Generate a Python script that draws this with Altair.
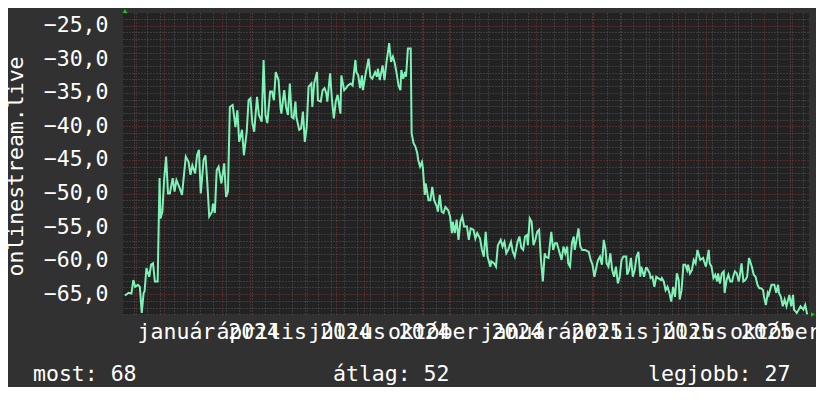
import altair as alt
import pandas as pd

# ---------------- data ----------------
start_date = "2023-10-18"   # left edge of the time axis
end_date = "2025-10-19"     # right edge of the time axis

# day offset from start_date of each sample
days = [
    2, 6, 9, 11, 13, 16, 18, 20, 22, 23,
    25, 28, 30, 32, 34, 37, 39, 40, 42, 44,
    46, 48, 50, 53, 55, 57, 60, 63, 64, 67,
    70, 72, 74, 77, 79, 81, 83, 86, 88, 90,
    92, 95, 96, 98, 100, 102, 105, 108, 110, 112,
    114, 117, 120, 122, 124, 127, 129, 132, 134, 136,
    138, 140, 143, 145, 148, 150, 152, 154, 157, 159,
    161, 163, 166, 168, 169, 172, 174, 176,
    178, 180, 182, 184, 185, 188, 190, 192, 194, 196,
    198, 201, 202, 204, 207, 208, 211, 213, 215, 217,
    218, 221, 223, 225, 227, 229, 232, 233, 236, 238,
    240, 243, 245, 248, 249, 251, 253, 255, 256, 259,
    262, 264, 266, 269, 271, 272, 274, 277, 279, 281,
    284, 286, 288, 290, 292, 294, 296, 297, 299, 301,
    302, 304, 307, 308, 310, 312, 314,
    315, 317, 319, 320, 322, 323, 326, 328, 330, 332,
    335, 336, 338, 340, 342, 344, 347, 349, 351, 352,
    354, 356, 358, 360, 362, 364, 367, 369, 371, 374,
    376, 378, 381, 383, 385, 387, 389, 392, 393, 396,
    398, 400, 403, 405, 407, 409, 411, 414, 416, 418,
    421, 423, 425, 427, 429, 431, 432, 434, 436, 438,
    440, 442, 444, 446, 448, 450, 451, 454, 457, 459,
    461, 463, 466, 468, 470, 472, 474, 475, 477, 479,
    481, 482, 484, 486, 488, 490, 493, 497, 499, 501,
    503, 506, 507, 509, 511, 513, 515, 516, 518, 520,
    522, 524, 526, 528, 530, 532, 534, 537, 538, 540,
    542, 544, 546, 548, 550, 552, 553, 556, 558, 559,
    562, 563, 565, 567, 569, 571, 574, 575, 577, 579,
    581, 583, 585, 587, 589, 591, 593, 594, 596, 598,
    600, 602, 603, 605, 607, 609, 611, 613, 615, 616,
    619, 620, 622, 625, 626, 628, 630, 632, 634, 635,
    637, 639, 641, 642, 644, 646, 648, 650, 651, 653,
    655, 657, 658, 660, 662, 664, 666, 668, 671, 673,
    675, 677, 679, 681, 683, 684, 686, 688, 689, 692,
    695, 697, 699, 700, 702, 704, 706, 708, 711, 713,
    715, 716, 719, 721, 723, 726, 728, 730,
]

values = [
    -65.2, -64.8, -64.9, -62.9, -63.9, -63.6, -63.9, -67.8, -64.8, -64.6,
    -61.1, -62.4, -60.6, -60.4, -63.1, -63.1, -47.7, -53.7, -52.7, -47.7,
    -44.5, -50.0, -50.0, -47.7, -49.7, -48.0, -49.0, -50.2, -48.7, -44.5,
    -45.3, -47.2, -45.8, -47.0, -44.3, -43.5, -50.0, -45.0, -44.3, -48.5,
    -53.4, -52.7, -51.5, -52.9, -46.5, -46.0, -48.5, -45.5, -50.5, -49.7,
    -37.1, -36.8, -40.1, -37.6, -42.3, -40.5, -44.3, -40.8, -36.1, -35.8,
    -39.5, -40.8, -35.6, -38.3, -39.3, -30.1, -38.3, -39.5, -34.8, -34.8,
    -36.1, -31.9, -33.1, -37.1, -38.1, -34.6, -37.1, -38.3,
    -33.6, -38.6, -38.8, -36.3, -38.6, -40.5, -40.3, -37.8, -42.3, -40.1,
    -34.1, -33.6, -37.1, -33.6, -31.9, -36.1, -36.3, -34.6, -34.3, -35.1,
    -36.3, -32.1, -36.1, -38.8, -36.3, -35.3, -38.1, -32.4, -34.6, -34.3,
    -33.9, -33.6, -33.9, -30.1, -31.9, -32.4, -34.3, -32.4, -34.6, -32.1,
    -29.9, -32.6, -32.9, -31.9, -32.6, -31.4, -33.1, -30.9, -33.1, -30.6,
    -27.6, -30.4, -29.6, -30.6, -32.1, -33.9, -34.6, -31.6, -32.9, -31.9,
    -32.6, -28.4, -28.4, -41.0, -42.5, -43.0, -44.0,
    -45.0, -46.0, -45.3, -46.2, -50.2, -48.5, -51.0, -51.0, -49.0, -51.0,
    -52.0, -52.7, -50.2, -52.7, -52.9, -52.0, -52.5, -53.4, -55.9, -54.2,
    -55.9, -53.9, -56.9, -54.2, -53.4, -54.9, -54.9, -56.9, -55.2, -55.4,
    -56.7, -55.9, -56.7, -58.4, -59.4, -55.7, -59.4, -60.9, -60.1, -60.4,
    -60.9, -57.7, -56.9, -57.9, -57.2, -58.9, -58.4, -57.2, -58.7, -59.4,
    -57.2, -56.4, -58.1, -58.4, -56.4, -56.2, -57.7, -53.7, -54.2, -57.7,
    -56.9, -55.7, -55.4, -59.9, -63.1, -58.9, -59.4, -59.6, -55.7, -58.4,
    -57.4, -57.4, -58.9, -59.9, -57.9, -58.9, -57.9, -60.4, -60.9, -57.4,
    -56.4, -58.4, -56.9, -55.2, -57.9, -58.4, -58.4, -58.7, -59.9, -60.6,
    -62.4, -60.4, -59.9, -59.4, -60.6, -56.9, -58.4, -60.4, -60.9, -58.9,
    -61.4, -62.4, -60.9, -63.4, -62.4, -59.9, -59.4, -59.4, -62.1, -61.4,
    -59.6, -62.4, -61.4, -59.4, -58.7, -62.4, -60.9, -62.4, -61.1, -61.1,
    -61.9, -62.6, -62.4, -63.9, -62.4, -62.6, -62.9, -62.6, -63.1, -64.4,
    -63.9, -64.8, -66.1, -63.9, -65.4, -61.9, -62.9, -65.8, -64.4, -60.6,
    -60.6, -61.4, -60.6, -61.9, -61.4, -59.9, -60.4, -58.4, -59.4, -59.9,
    -59.6, -60.1, -60.9, -58.4, -60.4, -60.9, -62.6, -62.1, -63.1, -61.9,
    -63.4, -61.9, -61.6, -64.8, -62.9, -62.1, -63.1, -63.1, -62.4, -61.6,
    -61.9, -63.1, -62.4, -60.4, -63.1, -62.9, -62.4, -59.6, -60.9, -62.1,
    -62.4, -63.6, -64.1, -64.1, -64.4, -65.4, -66.6, -64.8, -65.1, -63.6,
    -63.6, -64.8, -63.6, -64.8, -65.4, -66.8, -65.8, -66.8, -65.1, -66.8,
    -65.1, -67.3, -67.8, -67.3, -66.8, -67.3, -66.6, -68.0,
]
assert len(days) == len(values)

y_domain = [-68.1, -23.1]
month_names = ["január", "február", "március", "április", "május", "június",
               "július", "augusztus", "szeptember", "október", "november", "december"]
legend_labels = ["most: 68", "átlag: 52", "legjobb: 27"]
y_title = "onlinestream.live"

# ---------------- styling ----------------
FONT = "DejaVu Sans Mono"
FS = 21.5
BG = "#313131"
PLOT_BG = "#222222"
LINE = "#80f2b8"
GRID_MINOR = "#575757"
GRID_MAJOR = "#843434"
ARROW = "#10d010"

df = pd.DataFrame({
    "date": pd.Timestamp(start_date) + pd.to_timedelta(days, unit="D"),
    "value": values,
})

month_starts = pd.date_range("2023-11-01", "2025-10-01", freq="MS")
fortnights = pd.date_range("2023-10-30", end_date, freq="14D")
tick_dates = sorted(set(month_starts) | set(fortnights))
x_tick_values = [alt.DateTime(year=t.year, month=t.month, date=t.day) for t in tick_dates]
y_tick_values = list(range(-68, -23))

names_js = "[" + ",".join("'" + m + "'" for m in month_names) + "]"
x_label_expr = (
    "date(datum.value) == 1 && month(datum.value) % 3 == 0 ? "
    + names_js + "[month(datum.value)] + ' ' + year(datum.value) : ''"
)
y_label_expr = "datum.value % 5 == 0 ? replace(format(datum.value, '.1f'), '.', ',') : ''"

x_axis = alt.Axis(
    values=x_tick_values, labelExpr=x_label_expr, labelOverlap=False,
    labelBound=False, labelFlush=False, labelColor="white", labelFont=FONT,
    labelFontSize=FS, labelPadding=6, labelAlign="center", labelBaseline="top",
    labelOffset=15,
    ticks=False, tickSize=0, domain=False, grid=True,
    gridColor={"condition": {"test": "date(datum.value) == 1", "value": GRID_MAJOR},
               "value": GRID_MINOR},
    gridDash=[1, 2], gridWidth=1, title=None,
)
y_axis = alt.Axis(
    values=y_tick_values, labelExpr=y_label_expr, labelOverlap=False,
    labelColor="white", labelFont=FONT, labelFontSize=FS, labelPadding=15,
    labelBaseline="middle", ticks=False, tickSize=0, domain=False, grid=True,
    gridColor={"condition": {"test": "datum.value % 5 == 0", "value": GRID_MAJOR},
               "value": GRID_MINOR},
    gridDash=[1, 2], gridWidth=1,
    title=y_title, titleFont=FONT, titleFontSize=FS, titleFontWeight="normal",
    titleColor="white", titleAngle=270, titleX=-101, titleY=153,
    titleAlign="center", titleBaseline="alphabetic",
)

line = alt.Chart(df).mark_line(color=LINE, strokeWidth=2, clip=True).encode(
    x=alt.X("date:T", axis=x_axis,
            scale=alt.Scale(domain=[alt.DateTime(year=2023, month=10, date=18),
                                    alt.DateTime(year=2025, month=10, date=19)])),
    y=alt.Y("value:Q", axis=y_axis, scale=alt.Scale(domain=y_domain, nice=False, zero=False)),
)

legend_x = [-90, 210, 525]
legend_layers = [
    alt.Chart(pd.DataFrame({"t": [lbl]})).mark_text(
        font=FONT, fontSize=FS, color="white", align="left", baseline="middle"
    ).encode(text="t:N", x=alt.value(px), y=alt.value(362))
    for lbl, px in zip(legend_labels, legend_x)
]

arrow_up = alt.Chart(pd.DataFrame({"a": [0]})).mark_point(
    shape="triangle-up", filled=True, color=ARROW, size=22, opacity=1
).encode(x=alt.value(2), y=alt.value(-2))
arrow_right = alt.Chart(pd.DataFrame({"a": [0]})).mark_point(
    shape="triangle-right", filled=True, color=ARROW, size=22, opacity=1
).encode(x=alt.value(690), y=alt.value(301.5))

page_css = "body{background:" + BG + ";}"

chart = alt.layer(line, *legend_layers, arrow_up, arrow_right).properties(
    width=686, height=302,
    autosize=alt.AutoSizeParams(type="none"),
    padding={"left": 115, "top": 5, "right": 7, "bottom": 72},
    background=BG,
    usermeta={"embedOptions": {"defaultStyle": page_css}},
).configure_view(fill=PLOT_BG, stroke=None)

chart.save("out.html", embed_options={"renderer": "svg", "actions": False})
